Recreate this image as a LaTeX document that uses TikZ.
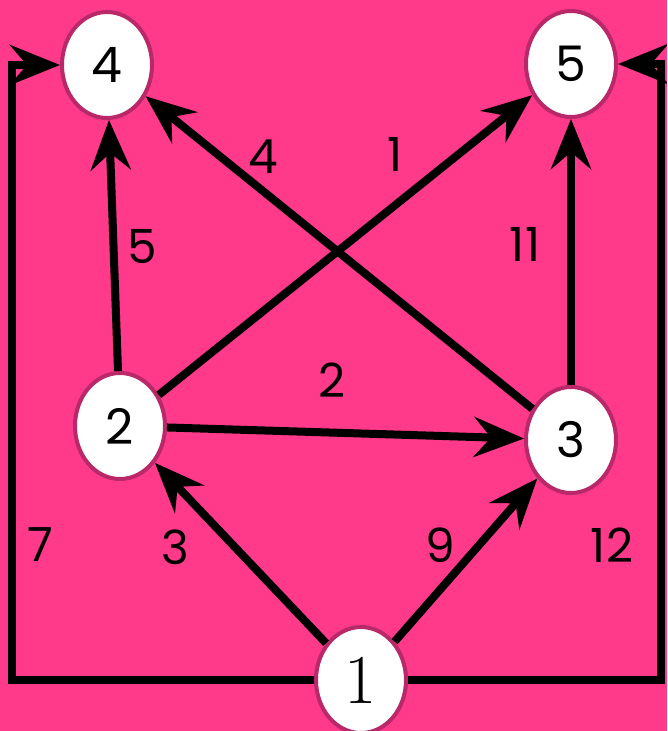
\documentclass[tikz,border=0pt]{standalone}
\usepackage{fontspec}
\setsansfont{Poppins}
\usetikzlibrary{shapes.geometric,arrows.meta}
\definecolor{bgpink}{RGB}{255,58,138}
\definecolor{rimpink}{RGB}{185,40,105}
\begin{document}
\begin{tikzpicture}[x=1pt,y=-1pt,
  vert/.style={ellipse,draw=rimpink,line width=4pt,fill=white,minimum width=90pt,minimum height=106pt,inner sep=0pt,font=\sffamily\fontsize{49}{49}\selectfont},
  edge/.style={line width=8pt,-{Stealth[length=50pt,width=40pt,inset=17pt]}},
  wlabel/.style={font=\sffamily\fontsize{47}{47}\selectfont,text=black}]
\fill[bgpink] (0,0) rectangle (667,731);
\clip (0,0) rectangle (667,731);
\useasboundingbox (0,0) rectangle (667,731);
\node[vert] (n4) at (107,65) {4};
\node[vert] (n5) at (571,64) {5};
\node[vert] (n2) at (120,426) {2};
\node[vert] (n3) at (571,440) {3};
\node[vert,font=\rmfamily\fontsize{70}{70}\selectfont] (n1) at (361,680) {1};
\coordinate (cl) at (12,65);
\coordinate (cr) at (661,64);
\draw[edge] (n1) -- (n2);
\draw[edge] (n1) -- (n3);
\draw[edge] (n2) -- (n3);
\draw[edge] (n2) -- (n4);
\draw[edge] (n2) -- (n5);
\draw[edge] (n3) -- (n4);
\draw[edge] (n3) -- (n5);
\draw[edge] (n1.west) -| (cl) -- (n4.west);
\draw[edge] (n1.east) -| (cr) -- (n5.east);
\node[wlabel] (l7) at (40,545) {7};
\node[wlabel] (l3) at (175,547) {3};
\node[wlabel] (l9) at (440,545) {9};
\node[wlabel] (l12) at (612,545) {12};
\node[wlabel] (l2) at (332,380) {2};
\node[wlabel] (l5) at (142,247) {5};
\node[wlabel] (l4) at (263,157) {4};
\node[wlabel] (l1) at (395,155) {1};
\node[wlabel] (l11) at (525,245) {11};
\end{tikzpicture}
\end{document}
